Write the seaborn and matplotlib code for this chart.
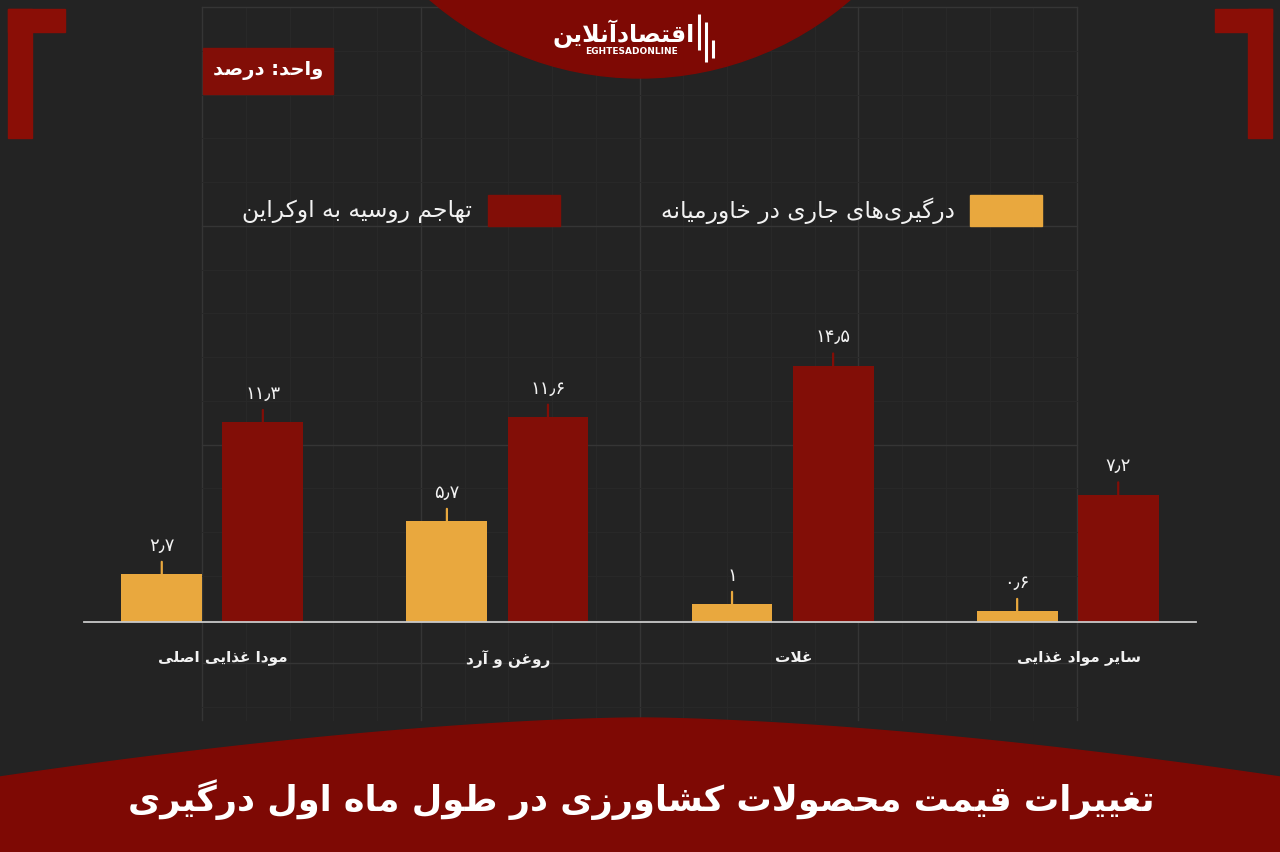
import re
import numpy as np
import pandas as pd
import matplotlib
matplotlib.use("Agg")
import matplotlib.pyplot as plt
import matplotlib.patches as mpatches
from matplotlib.transforms import ScaledTranslation
import seaborn as sns

# ---------------- data ----------------
categories = ["مودا غذایی اصلی", "روغن و آرد", "غلات", "سایر مواد غذایی"]
series_names = ["درگیری‌های جاری در خاورمیانه", "تهاجم روسیه به اوکراین"]
values_mideast = [2.7, 5.7, 1.0, 0.6]
values_ukraine = [11.3, 11.6, 14.5, 7.2]
title_text = "تغییرات قیمت محصولات کشاورزی در طول ماه اول درگیری"
unit_text = "واحد: درصد"
logo_text = "اقتصادآنلاین"
logo_sub = "EGHTESADONLINE"

# ---------------- colours ----------------
BG = "#232323"
YELLOW = "#E9A83E"
RED = "#820E07"
BANNER = "#7E0904"
WHITE = "#F2F2F2"

# ---------------- minimal Arabic-script shaper ----------------
# (isolated, final, initial, medial)
FORMS = {
    "\u0627": ("\uFE8D", "\uFE8E", None, None),
    "\u0622": ("\uFE81", "\uFE82", None, None),
    "\u0623": ("\uFE83", "\uFE84", None, None),
    "\u0628": ("\uFE8F", "\uFE90", "\uFE91", "\uFE92"),
    "\u067E": ("\uFB56", "\uFB57", "\uFB58", "\uFB59"),
    "\u062A": ("\uFE95", "\uFE96", "\uFE97", "\uFE98"),
    "\u062B": ("\uFE99", "\uFE9A", "\uFE9B", "\uFE9C"),
    "\u062C": ("\uFE9D", "\uFE9E", "\uFE9F", "\uFEA0"),
    "\u0686": ("\uFB7A", "\uFB7B", "\uFB7C", "\uFB7D"),
    "\u062D": ("\uFEA1", "\uFEA2", "\uFEA3", "\uFEA4"),
    "\u062E": ("\uFEA5", "\uFEA6", "\uFEA7", "\uFEA8"),
    "\u062F": ("\uFEA9", "\uFEAA", None, None),
    "\u0630": ("\uFEAB", "\uFEAC", None, None),
    "\u0631": ("\uFEAD", "\uFEAE", None, None),
    "\u0632": ("\uFEAF", "\uFEB0", None, None),
    "\u0698": ("\uFB8A", "\uFB8B", None, None),
    "\u0633": ("\uFEB1", "\uFEB2", "\uFEB3", "\uFEB4"),
    "\u0634": ("\uFEB5", "\uFEB6", "\uFEB7", "\uFEB8"),
    "\u0635": ("\uFEB9", "\uFEBA", "\uFEBB", "\uFEBC"),
    "\u0636": ("\uFEBD", "\uFEBE", "\uFEBF", "\uFEC0"),
    "\u0637": ("\uFEC1", "\uFEC2", "\uFEC3", "\uFEC4"),
    "\u0638": ("\uFEC5", "\uFEC6", "\uFEC7", "\uFEC8"),
    "\u0639": ("\uFEC9", "\uFECA", "\uFECB", "\uFECC"),
    "\u063A": ("\uFECD", "\uFECE", "\uFECF", "\uFED0"),
    "\u0641": ("\uFED1", "\uFED2", "\uFED3", "\uFED4"),
    "\u0642": ("\uFED5", "\uFED6", "\uFED7", "\uFED8"),
    "\u06A9": ("\uFB8E", "\uFB8F", "\uFB90", "\uFB91"),
    "\u0643": ("\uFED9", "\uFEDA", "\uFEDB", "\uFEDC"),
    "\u06AF": ("\uFB92", "\uFB93", "\uFB94", "\uFB95"),
    "\u0644": ("\uFEDD", "\uFEDE", "\uFEDF", "\uFEE0"),
    "\u0645": ("\uFEE1", "\uFEE2", "\uFEE3", "\uFEE4"),
    "\u0646": ("\uFEE5", "\uFEE6", "\uFEE7", "\uFEE8"),
    "\u0647": ("\uFEE9", "\uFEEA", "\uFEEB", "\uFEEC"),
    "\u0648": ("\uFEED", "\uFEEE", None, None),
    "\u06CC": ("\uFBFC", "\uFBFD", "\uFBFE", "\uFBFF"),
    "\u064A": ("\uFEF1", "\uFEF2", "\uFEF3", "\uFEF4"),
    "\u0626": ("\uFE89", "\uFE8A", "\uFE8B", "\uFE8C"),
}
LAM_ALEF = {"\u0627": ("\uFEFB", "\uFEFC"), "\u0622": ("\uFEF5", "\uFEF6")}


def _dual(c):
    return c in FORMS and FORMS[c][2] is not None


def shape(text):
    chars = list(text)
    out = []
    i = 0
    n = len(chars)
    while i < n:
        c = chars[i]
        if c == "\u200C":
            i += 1
            continue
        if c not in FORMS:
            out.append(c)
            i += 1
            continue
        prev = chars[i - 1] if i > 0 else None
        joins_prev = _dual(prev)
        if c == "\u0644" and i + 1 < n and chars[i + 1] in LAM_ALEF:
            iso, fin = LAM_ALEF[chars[i + 1]]
            out.append(fin if joins_prev else iso)
            i += 2
            continue
        nxt = chars[i + 1] if i + 1 < n else None
        iso, fin, ini, med = FORMS[c]
        joins_next = ini is not None and nxt in FORMS
        if joins_prev and joins_next:
            out.append(med)
        elif joins_prev:
            out.append(fin)
        elif joins_next:
            out.append(ini)
        else:
            out.append(iso)
        i += 1
    s = "".join(out)
    # visual order: reverse, keeping digit runs left-to-right
    tokens = re.findall(r"[0-9\u06F0-\u06F9\u066B.,A-Za-z]+|.", s)
    return "".join(reversed(tokens))


def fa_num(v):
    s = f"{v:g}"
    return s.translate(str.maketrans("0123456789.", "۰۱۲۳۴۵۶۷۸۹٫"))


# ---------------- figure ----------------
W, H = 1280, 852
fig = plt.figure(figsize=(W / 100, H / 100), dpi=100)
fig.patch.set_facecolor(BG)
FONT = ["DejaVu Sans"]

# background / decoration layer in pixel coordinates
bg = fig.add_axes([0, 0, 1, 1], zorder=-1)
bg.set_xlim(0, W)
bg.set_ylim(H, 0)
bg.axis("off")
bg.set_facecolor(BG)

# faint design grid
gx0, gx1, gy0, gy1 = 202, 1077, 7, 720
step = 43.75
for k in range(0, 21):
    x = gx0 + k * step
    major = k % 5 == 0
    bg.plot([x, x], [gy0, gy1], color="#353535" if major else "#292929",
            lw=1.0 if major else 0.7, zorder=0)
ky = 0
y = gy0
while y <= gy1:
    major = ky % 5 == 0
    bg.plot([gx0, gx1], [y, y], color="#353535" if major else "#292929",
            lw=1.0 if major else 0.7, zorder=0)
    ky += 1
    y = gy0 + ky * step

# top centre semicircle with logo
bg.add_patch(mpatches.Circle((640, -243), 321, color=BANNER, zorder=2))
bg.text(624, 34, shape(logo_text), family=FONT, weight="bold", fontsize=17,
        color="white", ha="center", va="center", zorder=3)
bg.text(632, 52, logo_sub, family=FONT, weight="bold", fontsize=6.5,
        color="white", ha="center", va="center", zorder=3)
for bx, by0, by1 in [(699, 14, 50), (706, 22, 62), (713, 40, 58)]:
    bg.plot([bx, bx], [by0, by1], color="white", lw=2.2, zorder=3,
            solid_capstyle="butt")

# corner brackets
CORNER = "#8A0E06"
bg.add_patch(mpatches.Rectangle((8, 9), 24, 129, color=CORNER, zorder=2))
bg.add_patch(mpatches.Rectangle((8, 9), 57, 23, color=CORNER, zorder=2))
bg.add_patch(mpatches.Rectangle((1248, 9), 24, 129, color=CORNER, zorder=2))
bg.add_patch(mpatches.Rectangle((1215, 9), 57, 23, color=CORNER, zorder=2))

# unit box
bg.add_patch(mpatches.Rectangle((203, 48), 130, 46, color=RED, zorder=2))
bg.text(268, 71, shape(unit_text), family=FONT, weight="bold", fontsize=14,
        color="white", ha="center", va="center", zorder=3)

# legend (right-to-left layout)
leg = [(series_names[0], YELLOW, 970, 1042, 955),
       (series_names[1], RED, 488, 560, 472)]
for name, col, x0, x1, tx in leg:
    bg.add_patch(mpatches.Rectangle((x0, 195), x1 - x0, 31, color=col, zorder=2))
    bg.text(tx, 211, shape(name), family=FONT, fontsize=16.8, color=WHITE,
            ha="right", va="center", zorder=3)

# bottom banner with curved top
xs = np.linspace(0, W, 400)
top = 718 + 59 * (np.abs(xs - 640) / 640) ** 1.6
poly = np.column_stack([np.r_[xs, W, 0], np.r_[top, H, H]])
bg.add_patch(mpatches.Polygon(poly, closed=True, color=BANNER, zorder=2))
bg.text(641, 800, shape(title_text), family=FONT, weight="bold", fontsize=25.3,
        color="white", ha="center", va="center", zorder=3)

# ---------------- main bar chart ----------------
df = pd.DataFrame({
    "category": categories * 2,
    "series": [series_names[0]] * 4 + [series_names[1]] * 4,
    "value": values_mideast + values_ukraine,
})

ax = fig.add_axes([84 / W, (H - 622) / H, 1112 / W, 353.2 / H], zorder=1)
ax.set_facecolor("none")
sns.barplot(data=df, x="category", y="value", hue="series",
            order=categories, hue_order=series_names,
            palette={series_names[0]: YELLOW, series_names[1]: RED},
            width=0.709, gap=0.2, legend=False, ax=ax, saturation=1)

ax.set_xlim(-0.45, 3.45)
ax.set_ylim(0, 20)
ax.set_xlabel("")
ax.set_ylabel("")
ax.set_yticks([])
for s in ["left", "right", "top"]:
    ax.spines[s].set_visible(False)
ax.spines["bottom"].set_color("#c9c9c9")
ax.spines["bottom"].set_linewidth(1.3)
ax.spines["bottom"].set_zorder(5)

ax.set_xticks(range(len(categories)))
ax.set_xticklabels([shape(c) for c in categories], family=FONT,
                   weight="bold", fontsize=11, color=WHITE)
ax.tick_params(axis="x", length=0, pad=20)
for lab in ax.get_xticklabels():
    lab.set_transform(lab.get_transform() + ScaledTranslation(0.11, 0, fig.dpi_scale_trans))

colors = [YELLOW, RED]
vals = [values_mideast, values_ukraine]
for cont, col, vs in zip(ax.containers, colors, vals):
    for bar, v in zip(cont, vs):
        xc = bar.get_x() + bar.get_width() / 2
        h = bar.get_height()
        ax.annotate("", xy=(xc, h), xytext=(0, 9), textcoords="offset points",
                    arrowprops=dict(arrowstyle="-", color=col, lw=1.6,
                                    shrinkA=0, shrinkB=0))
        ax.annotate(fa_num(v), xy=(xc, h), xytext=(0, 14),
                    textcoords="offset points", ha="center", va="bottom",
                    family=FONT, fontsize=13, color=WHITE)

fig.savefig("out.png", dpi=100, facecolor=BG)
